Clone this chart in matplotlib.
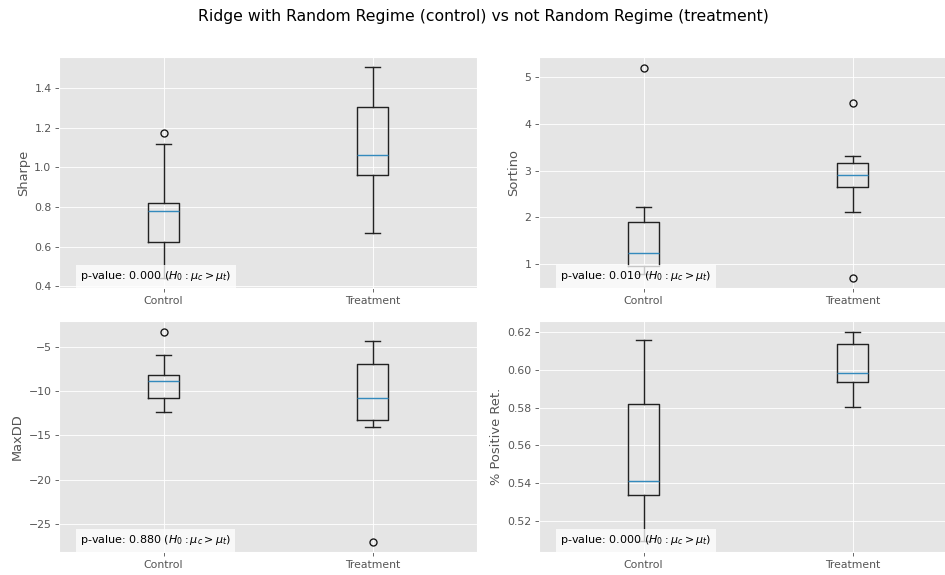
# Box plots of four metrics, control vs treatment, ggplot look
import numpy as np
import matplotlib
matplotlib.use('Agg')
import matplotlib.pyplot as plt

# --- Data (box stats per group) ---
groups = ["Control", "Treatment"]
metrics = ["Sharpe", "Sortino", "MaxDD", "% Positive Ret."]
p_values = [0.000, 0.010, 0.880, 0.000]

sharpe_q1 = [0.622, 0.961]
sharpe_med = [0.779, 1.060]
sharpe_q3 = [0.821, 1.306]
sharpe_lo = [0.445, 0.667]
sharpe_hi = [1.119, 1.503]
sharpe_fliers = [[1.174], []]

sortino_q1 = [0.95, 2.648]
sortino_med = [1.233, 2.919]
sortino_q3 = [1.909, 3.174]
sortino_lo = [0.78, 2.122]
sortino_hi = [2.222, 3.316]
sortino_fliers = [[5.21], [4.454, 0.714]]

maxdd_q1 = [-10.78, -13.29]
maxdd_med = [-8.86, -10.74]
maxdd_q3 = [-8.11, -6.91]
maxdd_lo = [-12.32, -14.08]
maxdd_hi = [-5.90, -4.32]
maxdd_fliers = [[-3.23], [-27.0]]

pos_q1 = [0.5337, 0.5938]
pos_med = [0.5411, 0.5983]
pos_q3 = [0.5818, 0.6140]
pos_lo = [0.509, 0.5803]
pos_hi = [0.6161, 0.6205]
pos_fliers = [[], []]

all_stats = [
    (sharpe_q1, sharpe_med, sharpe_q3, sharpe_lo, sharpe_hi, sharpe_fliers),
    (sortino_q1, sortino_med, sortino_q3, sortino_lo, sortino_hi, sortino_fliers),
    (maxdd_q1, maxdd_med, maxdd_q3, maxdd_lo, maxdd_hi, maxdd_fliers),
    (pos_q1, pos_med, pos_q3, pos_lo, pos_hi, pos_fliers),
]


def make_stats(q1, med, q3, lo, hi, fl):
    out = []
    for i, g in enumerate(groups):
        out.append(dict(label=g, q1=q1[i], med=med[i], q3=q3[i],
                        whislo=lo[i], whishi=hi[i], fliers=np.array(fl[i])))
    return out


plt.style.use('ggplot')
# reference looks like a larger figure scaled down, so draw at a low dpi
DPI = 78
W, H = 945.0, 575.0
fig = plt.figure(figsize=(W / DPI, H / DPI), dpi=DPI)

# axes boxes in pixels: left, top, width, height
boxes = [(59, 57, 418, 231), (539, 57, 418, 231),
         (59, 321, 418, 231), (539, 321, 418, 231)]

lw = 1.3
line_kw = dict(color='#222222', linewidth=lw)

for k, (l, t, w, h) in enumerate(boxes):
    ax = fig.add_axes([l / W, (H - t - h) / H, w / W, h / H])
    ax.bxp(make_stats(*all_stats[k]),
           boxprops=line_kw, whiskerprops=line_kw, capprops=line_kw,
           medianprops=dict(color='#348ABD', linewidth=lw),
           flierprops=dict(marker='o', markerfacecolor='none',
                           markeredgecolor='#111111', markersize=6.5,
                           markeredgewidth=1.2))
    ax.set_ylabel(metrics[k])
    ax.text(0.05, 0.05, "p-value: %.3f ($H_0: \\mu_c > \\mu_t$)" % p_values[k],
            transform=ax.transAxes, ha='left', va='center', fontsize=10.3,
            bbox=dict(facecolor='white', alpha=0.75, edgecolor='none'))

fig.suptitle("Ridge with Random Regime (control) vs not Random Regime (treatment)",
             x=0.512, y=0.985, fontsize=14.4)

fig.savefig("out.png", dpi=DPI)
